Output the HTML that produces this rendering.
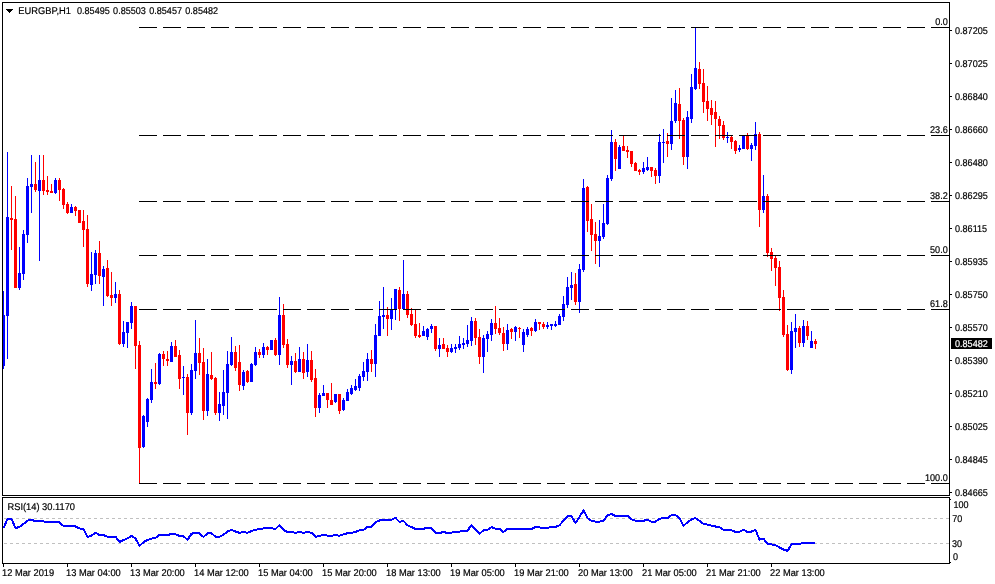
<!DOCTYPE html>
<html lang="en"><head><meta charset="utf-8"><title>EURGBP,H1</title>
<style>html,body{margin:0;padding:0;background:#fff;overflow:hidden}svg{display:block}text{font-family:"Liberation Sans", sans-serif;font-size:9.8px;fill:#000;stroke:#000;stroke-width:0.2px;text-rendering:geometricPrecision}.c rect{shape-rendering:crispEdges}.b{fill:#0000ff}.r{fill:#ff0000}.k{fill:#000}</style></head><body>
<svg width="995" height="584" viewBox="0 0 995 584">
<rect width="995" height="584" fill="#fff"/>
<g class="c">
<rect class="b" x="3" y="291" width="1" height="78"/>
<rect class="b" x="2" y="315" width="3" height="51"/>
<rect class="b" x="7" y="152" width="1" height="207"/>
<rect class="b" x="6" y="217" width="3" height="99"/>
<rect class="r" x="11" y="186" width="1" height="64"/>
<rect class="r" x="10" y="218" width="3" height="2"/>
<rect class="r" x="15" y="196" width="1" height="92"/>
<rect class="r" x="14" y="219" width="3" height="69"/>
<rect class="b" x="19" y="247" width="1" height="43"/>
<rect class="b" x="18" y="273" width="3" height="15"/>
<rect class="b" x="23" y="230" width="1" height="50"/>
<rect class="b" x="22" y="234" width="3" height="40"/>
<rect class="b" x="27" y="178" width="1" height="65"/>
<rect class="b" x="26" y="186" width="3" height="49"/>
<rect class="b" x="31" y="155" width="1" height="58"/>
<rect class="b" x="30" y="184" width="3" height="3"/>
<rect class="r" x="35" y="162" width="1" height="30"/>
<rect class="r" x="34" y="184" width="3" height="6"/>
<rect class="b" x="39" y="155" width="1" height="106"/>
<rect class="b" x="38" y="180" width="3" height="11"/>
<rect class="r" x="43" y="155" width="1" height="40"/>
<rect class="r" x="42" y="180" width="3" height="11"/>
<rect class="r" x="47" y="176" width="1" height="19"/>
<rect class="r" x="46" y="190" width="3" height="2"/>
<rect class="r" x="51" y="184" width="1" height="9"/>
<rect class="r" x="50" y="191" width="3" height="2"/>
<rect class="b" x="55" y="178" width="1" height="16"/>
<rect class="b" x="54" y="180" width="3" height="13"/>
<rect class="r" x="59" y="178" width="1" height="23"/>
<rect class="r" x="58" y="180" width="3" height="10"/>
<rect class="r" x="63" y="188" width="1" height="21"/>
<rect class="r" x="62" y="189" width="3" height="16"/>
<rect class="r" x="67" y="202" width="1" height="12"/>
<rect class="r" x="66" y="204" width="3" height="9"/>
<rect class="b" x="71" y="204" width="1" height="9"/>
<rect class="b" x="70" y="207" width="3" height="6"/>
<rect class="r" x="75" y="206" width="1" height="10"/>
<rect class="r" x="74" y="207" width="3" height="4"/>
<rect class="r" x="79" y="210" width="1" height="13"/>
<rect class="r" x="78" y="210" width="3" height="13"/>
<rect class="r" x="83" y="210" width="1" height="37"/>
<rect class="r" x="82" y="221" width="3" height="9"/>
<rect class="r" x="87" y="215" width="1" height="72"/>
<rect class="r" x="86" y="229" width="3" height="55"/>
<rect class="b" x="91" y="252" width="1" height="39"/>
<rect class="b" x="90" y="274" width="3" height="11"/>
<rect class="b" x="95" y="250" width="1" height="34"/>
<rect class="b" x="94" y="253" width="3" height="22"/>
<rect class="r" x="99" y="241" width="1" height="43"/>
<rect class="r" x="98" y="253" width="3" height="23"/>
<rect class="b" x="103" y="266" width="1" height="40"/>
<rect class="b" x="102" y="269" width="3" height="8"/>
<rect class="r" x="107" y="260" width="1" height="37"/>
<rect class="r" x="106" y="268" width="3" height="28"/>
<rect class="r" x="111" y="272" width="1" height="34"/>
<rect class="r" x="110" y="295" width="3" height="3"/>
<rect class="b" x="115" y="282" width="1" height="21"/>
<rect class="b" x="114" y="294" width="3" height="4"/>
<rect class="r" x="119" y="290" width="1" height="55"/>
<rect class="r" x="118" y="294" width="3" height="50"/>
<rect class="b" x="123" y="321" width="1" height="26"/>
<rect class="b" x="122" y="332" width="3" height="12"/>
<rect class="b" x="127" y="322" width="1" height="26"/>
<rect class="b" x="126" y="322" width="3" height="11"/>
<rect class="b" x="131" y="302" width="1" height="27"/>
<rect class="b" x="130" y="306" width="3" height="17"/>
<rect class="r" x="135" y="306" width="1" height="63"/>
<rect class="r" x="134" y="306" width="3" height="40"/>
<rect class="r" x="139" y="341" width="1" height="142"/>
<rect class="r" x="138" y="345" width="3" height="103"/>
<rect class="b" x="143" y="415" width="1" height="33"/>
<rect class="b" x="142" y="416" width="3" height="31"/>
<rect class="b" x="147" y="398" width="1" height="29"/>
<rect class="b" x="146" y="399" width="3" height="23"/>
<rect class="b" x="151" y="369" width="1" height="34"/>
<rect class="b" x="150" y="382" width="3" height="18"/>
<rect class="r" x="155" y="363" width="1" height="26"/>
<rect class="r" x="154" y="382" width="3" height="2"/>
<rect class="b" x="159" y="353" width="1" height="32"/>
<rect class="b" x="158" y="354" width="3" height="30"/>
<rect class="r" x="163" y="351" width="1" height="15"/>
<rect class="r" x="162" y="354" width="3" height="5"/>
<rect class="r" x="167" y="351" width="1" height="15"/>
<rect class="r" x="166" y="359" width="3" height="2"/>
<rect class="b" x="171" y="342" width="1" height="20"/>
<rect class="b" x="170" y="346" width="3" height="16"/>
<rect class="r" x="175" y="340" width="1" height="17"/>
<rect class="r" x="174" y="346" width="3" height="11"/>
<rect class="r" x="179" y="350" width="1" height="39"/>
<rect class="r" x="178" y="355" width="3" height="24"/>
<rect class="b" x="183" y="366" width="1" height="29"/>
<rect class="b" x="182" y="377" width="3" height="1"/>
<rect class="r" x="187" y="374" width="1" height="61"/>
<rect class="r" x="186" y="377" width="3" height="36"/>
<rect class="b" x="191" y="364" width="1" height="51"/>
<rect class="b" x="190" y="370" width="3" height="43"/>
<rect class="b" x="195" y="320" width="1" height="59"/>
<rect class="b" x="194" y="353" width="3" height="18"/>
<rect class="r" x="199" y="338" width="1" height="37"/>
<rect class="r" x="198" y="353" width="3" height="10"/>
<rect class="r" x="203" y="348" width="1" height="72"/>
<rect class="r" x="202" y="362" width="3" height="49"/>
<rect class="b" x="207" y="359" width="1" height="57"/>
<rect class="b" x="206" y="374" width="3" height="37"/>
<rect class="r" x="211" y="352" width="1" height="28"/>
<rect class="r" x="210" y="375" width="3" height="4"/>
<rect class="r" x="215" y="377" width="1" height="38"/>
<rect class="r" x="214" y="378" width="3" height="35"/>
<rect class="b" x="219" y="392" width="1" height="29"/>
<rect class="b" x="218" y="404" width="3" height="9"/>
<rect class="b" x="223" y="370" width="1" height="45"/>
<rect class="b" x="222" y="392" width="3" height="14"/>
<rect class="b" x="227" y="351" width="1" height="68"/>
<rect class="b" x="226" y="364" width="3" height="29"/>
<rect class="b" x="231" y="337" width="1" height="29"/>
<rect class="b" x="230" y="352" width="3" height="13"/>
<rect class="r" x="235" y="346" width="1" height="25"/>
<rect class="r" x="234" y="352" width="3" height="16"/>
<rect class="r" x="239" y="345" width="1" height="46"/>
<rect class="r" x="238" y="362" width="3" height="23"/>
<rect class="b" x="243" y="370" width="1" height="20"/>
<rect class="b" x="242" y="372" width="3" height="14"/>
<rect class="r" x="247" y="370" width="1" height="13"/>
<rect class="r" x="246" y="371" width="3" height="11"/>
<rect class="b" x="251" y="363" width="1" height="19"/>
<rect class="b" x="250" y="364" width="3" height="18"/>
<rect class="b" x="255" y="347" width="1" height="19"/>
<rect class="b" x="254" y="352" width="3" height="13"/>
<rect class="r" x="259" y="349" width="1" height="9"/>
<rect class="r" x="258" y="352" width="3" height="3"/>
<rect class="b" x="263" y="343" width="1" height="15"/>
<rect class="b" x="262" y="347" width="3" height="8"/>
<rect class="r" x="267" y="346" width="1" height="9"/>
<rect class="r" x="266" y="347" width="3" height="3"/>
<rect class="b" x="271" y="340" width="1" height="10"/>
<rect class="b" x="270" y="340" width="3" height="10"/>
<rect class="r" x="275" y="338" width="1" height="18"/>
<rect class="r" x="274" y="340" width="3" height="15"/>
<rect class="b" x="279" y="297" width="1" height="68"/>
<rect class="b" x="278" y="315" width="3" height="40"/>
<rect class="r" x="283" y="304" width="1" height="44"/>
<rect class="r" x="282" y="315" width="3" height="30"/>
<rect class="r" x="287" y="339" width="1" height="29"/>
<rect class="r" x="286" y="344" width="3" height="21"/>
<rect class="b" x="291" y="356" width="1" height="29"/>
<rect class="b" x="290" y="361" width="3" height="4"/>
<rect class="r" x="295" y="353" width="1" height="20"/>
<rect class="r" x="294" y="361" width="3" height="11"/>
<rect class="b" x="299" y="347" width="1" height="25"/>
<rect class="b" x="298" y="359" width="3" height="13"/>
<rect class="r" x="303" y="352" width="1" height="27"/>
<rect class="r" x="302" y="359" width="3" height="14"/>
<rect class="b" x="307" y="344" width="1" height="33"/>
<rect class="b" x="306" y="360" width="3" height="12"/>
<rect class="r" x="311" y="351" width="1" height="31"/>
<rect class="r" x="310" y="360" width="3" height="20"/>
<rect class="r" x="315" y="369" width="1" height="48"/>
<rect class="r" x="314" y="378" width="3" height="30"/>
<rect class="b" x="319" y="393" width="1" height="20"/>
<rect class="b" x="318" y="395" width="3" height="13"/>
<rect class="b" x="323" y="385" width="1" height="11"/>
<rect class="b" x="322" y="393" width="3" height="3"/>
<rect class="r" x="327" y="393" width="1" height="15"/>
<rect class="r" x="326" y="393" width="3" height="7"/>
<rect class="r" x="331" y="383" width="1" height="22"/>
<rect class="r" x="330" y="400" width="3" height="5"/>
<rect class="b" x="335" y="394" width="1" height="9"/>
<rect class="b" x="334" y="394" width="3" height="8"/>
<rect class="r" x="339" y="394" width="1" height="20"/>
<rect class="r" x="338" y="394" width="3" height="17"/>
<rect class="b" x="343" y="398" width="1" height="13"/>
<rect class="b" x="342" y="400" width="3" height="10"/>
<rect class="b" x="347" y="389" width="1" height="12"/>
<rect class="b" x="346" y="392" width="3" height="9"/>
<rect class="b" x="351" y="385" width="1" height="10"/>
<rect class="b" x="350" y="388" width="3" height="6"/>
<rect class="b" x="355" y="379" width="1" height="12"/>
<rect class="b" x="354" y="386" width="3" height="4"/>
<rect class="b" x="359" y="374" width="1" height="17"/>
<rect class="b" x="358" y="376" width="3" height="12"/>
<rect class="b" x="363" y="362" width="1" height="19"/>
<rect class="b" x="362" y="371" width="3" height="6"/>
<rect class="b" x="367" y="353" width="1" height="28"/>
<rect class="b" x="366" y="359" width="3" height="13"/>
<rect class="r" x="371" y="350" width="1" height="22"/>
<rect class="r" x="370" y="359" width="3" height="5"/>
<rect class="b" x="375" y="324" width="1" height="53"/>
<rect class="b" x="374" y="335" width="3" height="29"/>
<rect class="b" x="379" y="301" width="1" height="35"/>
<rect class="b" x="378" y="316" width="3" height="20"/>
<rect class="b" x="383" y="287" width="1" height="42"/>
<rect class="b" x="382" y="315" width="3" height="2"/>
<rect class="r" x="387" y="307" width="1" height="29"/>
<rect class="r" x="386" y="315" width="3" height="4"/>
<rect class="b" x="391" y="298" width="1" height="32"/>
<rect class="b" x="390" y="310" width="3" height="9"/>
<rect class="b" x="395" y="289" width="1" height="31"/>
<rect class="b" x="394" y="289" width="3" height="20"/>
<rect class="r" x="399" y="287" width="1" height="34"/>
<rect class="r" x="398" y="290" width="3" height="19"/>
<rect class="b" x="403" y="260" width="1" height="49"/>
<rect class="b" x="402" y="294" width="3" height="15"/>
<rect class="r" x="407" y="291" width="1" height="27"/>
<rect class="r" x="406" y="294" width="3" height="21"/>
<rect class="r" x="411" y="308" width="1" height="18"/>
<rect class="r" x="410" y="314" width="3" height="11"/>
<rect class="r" x="415" y="310" width="1" height="28"/>
<rect class="r" x="414" y="324" width="3" height="12"/>
<rect class="r" x="419" y="323" width="1" height="15"/>
<rect class="r" x="418" y="335" width="3" height="2"/>
<rect class="b" x="423" y="326" width="1" height="10"/>
<rect class="b" x="422" y="331" width="3" height="5"/>
<rect class="b" x="427" y="328" width="1" height="12"/>
<rect class="b" x="426" y="329" width="3" height="8"/>
<rect class="b" x="431" y="324" width="1" height="9"/>
<rect class="b" x="430" y="326" width="3" height="3"/>
<rect class="r" x="435" y="326" width="1" height="25"/>
<rect class="r" x="434" y="326" width="3" height="23"/>
<rect class="b" x="439" y="338" width="1" height="19"/>
<rect class="b" x="438" y="345" width="3" height="4"/>
<rect class="r" x="443" y="338" width="1" height="11"/>
<rect class="r" x="442" y="344" width="3" height="5"/>
<rect class="r" x="447" y="345" width="1" height="12"/>
<rect class="r" x="446" y="348" width="3" height="4"/>
<rect class="b" x="451" y="344" width="1" height="9"/>
<rect class="b" x="450" y="348" width="3" height="4"/>
<rect class="b" x="455" y="344" width="1" height="9"/>
<rect class="b" x="454" y="347" width="3" height="2"/>
<rect class="b" x="459" y="336" width="1" height="14"/>
<rect class="b" x="458" y="344" width="3" height="4"/>
<rect class="b" x="463" y="338" width="1" height="11"/>
<rect class="b" x="462" y="343" width="3" height="2"/>
<rect class="b" x="467" y="325" width="1" height="22"/>
<rect class="b" x="466" y="340" width="3" height="4"/>
<rect class="b" x="471" y="317" width="1" height="29"/>
<rect class="b" x="470" y="321" width="3" height="20"/>
<rect class="r" x="475" y="318" width="1" height="27"/>
<rect class="r" x="474" y="321" width="3" height="17"/>
<rect class="r" x="479" y="329" width="1" height="35"/>
<rect class="r" x="478" y="337" width="3" height="20"/>
<rect class="b" x="483" y="335" width="1" height="38"/>
<rect class="b" x="482" y="338" width="3" height="19"/>
<rect class="b" x="487" y="331" width="1" height="21"/>
<rect class="b" x="486" y="334" width="3" height="5"/>
<rect class="b" x="491" y="319" width="1" height="22"/>
<rect class="b" x="490" y="323" width="3" height="12"/>
<rect class="r" x="495" y="306" width="1" height="28"/>
<rect class="r" x="494" y="323" width="3" height="6"/>
<rect class="r" x="499" y="318" width="1" height="17"/>
<rect class="r" x="498" y="328" width="3" height="5"/>
<rect class="r" x="503" y="327" width="1" height="24"/>
<rect class="r" x="502" y="333" width="3" height="11"/>
<rect class="b" x="507" y="324" width="1" height="26"/>
<rect class="b" x="506" y="330" width="3" height="14"/>
<rect class="r" x="511" y="328" width="1" height="11"/>
<rect class="r" x="510" y="329" width="3" height="3"/>
<rect class="b" x="515" y="326" width="1" height="15"/>
<rect class="b" x="514" y="327" width="3" height="5"/>
<rect class="r" x="519" y="327" width="1" height="11"/>
<rect class="r" x="518" y="328" width="3" height="1"/>
<rect class="b" x="523" y="329" width="1" height="23"/>
<rect class="b" x="522" y="332" width="3" height="13"/>
<rect class="b" x="527" y="327" width="1" height="10"/>
<rect class="b" x="526" y="329" width="3" height="6"/>
<rect class="r" x="531" y="327" width="1" height="9"/>
<rect class="r" x="530" y="328" width="3" height="3"/>
<rect class="b" x="535" y="319" width="1" height="13"/>
<rect class="b" x="534" y="322" width="3" height="9"/>
<rect class="r" x="539" y="322" width="1" height="8"/>
<rect class="r" x="538" y="322" width="3" height="2"/>
<rect class="r" x="543" y="322" width="1" height="7"/>
<rect class="r" x="542" y="324" width="3" height="3"/>
<rect class="b" x="547" y="322" width="1" height="7"/>
<rect class="b" x="546" y="325" width="3" height="2"/>
<rect class="b" x="551" y="324" width="1" height="6"/>
<rect class="b" x="550" y="324" width="3" height="2"/>
<rect class="b" x="555" y="321" width="1" height="6"/>
<rect class="b" x="554" y="324" width="3" height="2"/>
<rect class="b" x="559" y="314" width="1" height="11"/>
<rect class="b" x="558" y="316" width="3" height="9"/>
<rect class="b" x="563" y="296" width="1" height="25"/>
<rect class="b" x="562" y="304" width="3" height="13"/>
<rect class="b" x="567" y="277" width="1" height="31"/>
<rect class="b" x="566" y="287" width="3" height="18"/>
<rect class="b" x="571" y="272" width="1" height="28"/>
<rect class="b" x="570" y="285" width="3" height="3"/>
<rect class="r" x="575" y="273" width="1" height="32"/>
<rect class="r" x="574" y="284" width="3" height="18"/>
<rect class="b" x="579" y="264" width="1" height="49"/>
<rect class="b" x="578" y="269" width="3" height="33"/>
<rect class="b" x="583" y="179" width="1" height="93"/>
<rect class="b" x="582" y="188" width="3" height="82"/>
<rect class="r" x="587" y="186" width="1" height="46"/>
<rect class="r" x="586" y="187" width="3" height="34"/>
<rect class="r" x="591" y="204" width="1" height="47"/>
<rect class="r" x="590" y="219" width="3" height="16"/>
<rect class="r" x="595" y="222" width="1" height="42"/>
<rect class="r" x="594" y="234" width="3" height="7"/>
<rect class="b" x="599" y="220" width="1" height="47"/>
<rect class="b" x="598" y="236" width="3" height="5"/>
<rect class="b" x="603" y="204" width="1" height="35"/>
<rect class="b" x="602" y="223" width="3" height="14"/>
<rect class="b" x="607" y="175" width="1" height="50"/>
<rect class="b" x="606" y="178" width="3" height="46"/>
<rect class="b" x="611" y="130" width="1" height="51"/>
<rect class="b" x="610" y="142" width="3" height="37"/>
<rect class="r" x="615" y="139" width="1" height="32"/>
<rect class="r" x="614" y="142" width="3" height="17"/>
<rect class="b" x="619" y="145" width="1" height="24"/>
<rect class="b" x="618" y="147" width="3" height="22"/>
<rect class="r" x="623" y="136" width="1" height="15"/>
<rect class="r" x="622" y="146" width="3" height="5"/>
<rect class="r" x="627" y="146" width="1" height="12"/>
<rect class="r" x="626" y="150" width="3" height="2"/>
<rect class="r" x="631" y="151" width="1" height="16"/>
<rect class="r" x="630" y="151" width="3" height="13"/>
<rect class="r" x="635" y="162" width="1" height="9"/>
<rect class="r" x="634" y="163" width="3" height="8"/>
<rect class="r" x="639" y="169" width="1" height="6"/>
<rect class="r" x="638" y="170" width="3" height="2"/>
<rect class="b" x="643" y="162" width="1" height="12"/>
<rect class="b" x="642" y="168" width="3" height="4"/>
<rect class="b" x="647" y="157" width="1" height="14"/>
<rect class="b" x="646" y="167" width="3" height="3"/>
<rect class="r" x="651" y="167" width="1" height="10"/>
<rect class="r" x="650" y="167" width="3" height="4"/>
<rect class="r" x="655" y="168" width="1" height="16"/>
<rect class="r" x="654" y="170" width="3" height="6"/>
<rect class="b" x="659" y="134" width="1" height="49"/>
<rect class="b" x="658" y="142" width="3" height="34"/>
<rect class="b" x="663" y="129" width="1" height="34"/>
<rect class="b" x="662" y="142" width="3" height="1"/>
<rect class="r" x="667" y="133" width="1" height="24"/>
<rect class="r" x="666" y="141" width="3" height="3"/>
<rect class="b" x="671" y="98" width="1" height="52"/>
<rect class="b" x="670" y="121" width="3" height="23"/>
<rect class="b" x="675" y="90" width="1" height="33"/>
<rect class="b" x="674" y="103" width="3" height="18"/>
<rect class="r" x="679" y="88" width="1" height="51"/>
<rect class="r" x="678" y="104" width="3" height="17"/>
<rect class="r" x="683" y="118" width="1" height="47"/>
<rect class="r" x="682" y="120" width="3" height="37"/>
<rect class="b" x="687" y="111" width="1" height="58"/>
<rect class="b" x="686" y="117" width="3" height="40"/>
<rect class="b" x="691" y="74" width="1" height="49"/>
<rect class="b" x="690" y="87" width="3" height="32"/>
<rect class="b" x="695" y="27" width="1" height="63"/>
<rect class="b" x="694" y="68" width="3" height="21"/>
<rect class="r" x="699" y="62" width="1" height="27"/>
<rect class="r" x="698" y="69" width="3" height="15"/>
<rect class="r" x="703" y="69" width="1" height="44"/>
<rect class="r" x="702" y="83" width="3" height="19"/>
<rect class="r" x="707" y="86" width="1" height="35"/>
<rect class="r" x="706" y="101" width="3" height="8"/>
<rect class="r" x="711" y="100" width="1" height="25"/>
<rect class="r" x="710" y="108" width="3" height="7"/>
<rect class="r" x="715" y="101" width="1" height="46"/>
<rect class="r" x="714" y="112" width="3" height="7"/>
<rect class="r" x="719" y="116" width="1" height="23"/>
<rect class="r" x="718" y="119" width="3" height="7"/>
<rect class="r" x="723" y="121" width="1" height="19"/>
<rect class="r" x="722" y="125" width="3" height="13"/>
<rect class="b" x="727" y="132" width="1" height="11"/>
<rect class="b" x="726" y="137" width="3" height="1"/>
<rect class="r" x="731" y="136" width="1" height="13"/>
<rect class="r" x="730" y="137" width="3" height="5"/>
<rect class="r" x="735" y="140" width="1" height="14"/>
<rect class="r" x="734" y="141" width="3" height="10"/>
<rect class="b" x="739" y="145" width="1" height="7"/>
<rect class="b" x="738" y="148" width="3" height="2"/>
<rect class="b" x="743" y="136" width="1" height="13"/>
<rect class="b" x="742" y="136" width="3" height="13"/>
<rect class="r" x="747" y="133" width="1" height="17"/>
<rect class="r" x="746" y="136" width="3" height="13"/>
<rect class="b" x="751" y="143" width="1" height="18"/>
<rect class="b" x="750" y="145" width="3" height="4"/>
<rect class="b" x="755" y="122" width="1" height="28"/>
<rect class="b" x="754" y="134" width="3" height="12"/>
<rect class="r" x="759" y="132" width="1" height="95"/>
<rect class="r" x="758" y="134" width="3" height="76"/>
<rect class="b" x="763" y="175" width="1" height="38"/>
<rect class="b" x="762" y="196" width="3" height="14"/>
<rect class="r" x="767" y="194" width="1" height="63"/>
<rect class="r" x="766" y="196" width="3" height="57"/>
<rect class="r" x="771" y="248" width="1" height="23"/>
<rect class="r" x="770" y="252" width="3" height="7"/>
<rect class="r" x="775" y="256" width="1" height="30"/>
<rect class="r" x="774" y="258" width="3" height="10"/>
<rect class="r" x="779" y="261" width="1" height="50"/>
<rect class="r" x="778" y="267" width="3" height="31"/>
<rect class="r" x="783" y="290" width="1" height="47"/>
<rect class="r" x="782" y="297" width="3" height="38"/>
<rect class="r" x="787" y="325" width="1" height="46"/>
<rect class="r" x="786" y="334" width="3" height="36"/>
<rect class="b" x="791" y="322" width="1" height="52"/>
<rect class="b" x="790" y="331" width="3" height="39"/>
<rect class="b" x="795" y="314" width="1" height="34"/>
<rect class="b" x="794" y="328" width="3" height="4"/>
<rect class="r" x="799" y="326" width="1" height="21"/>
<rect class="r" x="798" y="328" width="3" height="15"/>
<rect class="b" x="803" y="320" width="1" height="27"/>
<rect class="b" x="802" y="326" width="3" height="17"/>
<rect class="r" x="807" y="321" width="1" height="19"/>
<rect class="r" x="806" y="326" width="3" height="10"/>
<rect class="b" x="811" y="331" width="1" height="17"/>
<rect class="b" x="810" y="341" width="3" height="7"/>
<rect class="r" x="815" y="339" width="1" height="10"/>
<rect class="r" x="814" y="341" width="3" height="3"/>
</g>
<g class="c">
<path d="M139 27h18v1h-18zM163 27h18v1h-18zM187 27h18v1h-18zM211 27h18v1h-18zM235 27h18v1h-18zM259 27h18v1h-18zM283 27h18v1h-18zM307 27h18v1h-18zM331 27h18v1h-18zM355 27h18v1h-18zM379 27h18v1h-18zM403 27h18v1h-18zM427 27h18v1h-18zM451 27h18v1h-18zM475 27h18v1h-18zM499 27h18v1h-18zM523 27h18v1h-18zM547 27h18v1h-18zM571 27h18v1h-18zM595 27h18v1h-18zM619 27h18v1h-18zM643 27h18v1h-18zM667 27h18v1h-18zM691 27h18v1h-18zM715 27h18v1h-18zM739 27h18v1h-18zM763 27h18v1h-18zM787 27h18v1h-18zM811 27h18v1h-18zM835 27h18v1h-18zM859 27h18v1h-18zM883 27h18v1h-18zM907 27h18v1h-18zM931 27h18v1h-18z" fill="#000" shape-rendering="crispEdges"/>
<path d="M139 135h18v1h-18zM163 135h18v1h-18zM187 135h18v1h-18zM211 135h18v1h-18zM235 135h18v1h-18zM259 135h18v1h-18zM283 135h18v1h-18zM307 135h18v1h-18zM331 135h18v1h-18zM355 135h18v1h-18zM379 135h18v1h-18zM403 135h18v1h-18zM427 135h18v1h-18zM451 135h18v1h-18zM475 135h18v1h-18zM499 135h18v1h-18zM523 135h18v1h-18zM547 135h18v1h-18zM571 135h18v1h-18zM595 135h18v1h-18zM619 135h18v1h-18zM643 135h18v1h-18zM667 135h18v1h-18zM691 135h18v1h-18zM715 135h18v1h-18zM739 135h18v1h-18zM763 135h18v1h-18zM787 135h18v1h-18zM811 135h18v1h-18zM835 135h18v1h-18zM859 135h18v1h-18zM883 135h18v1h-18zM907 135h18v1h-18zM931 135h18v1h-18z" fill="#000" shape-rendering="crispEdges"/>
<path d="M139 201h18v1h-18zM163 201h18v1h-18zM187 201h18v1h-18zM211 201h18v1h-18zM235 201h18v1h-18zM259 201h18v1h-18zM283 201h18v1h-18zM307 201h18v1h-18zM331 201h18v1h-18zM355 201h18v1h-18zM379 201h18v1h-18zM403 201h18v1h-18zM427 201h18v1h-18zM451 201h18v1h-18zM475 201h18v1h-18zM499 201h18v1h-18zM523 201h18v1h-18zM547 201h18v1h-18zM571 201h18v1h-18zM595 201h18v1h-18zM619 201h18v1h-18zM643 201h18v1h-18zM667 201h18v1h-18zM691 201h18v1h-18zM715 201h18v1h-18zM739 201h18v1h-18zM763 201h18v1h-18zM787 201h18v1h-18zM811 201h18v1h-18zM835 201h18v1h-18zM859 201h18v1h-18zM883 201h18v1h-18zM907 201h18v1h-18zM931 201h18v1h-18z" fill="#000" shape-rendering="crispEdges"/>
<path d="M139 255h18v1h-18zM163 255h18v1h-18zM187 255h18v1h-18zM211 255h18v1h-18zM235 255h18v1h-18zM259 255h18v1h-18zM283 255h18v1h-18zM307 255h18v1h-18zM331 255h18v1h-18zM355 255h18v1h-18zM379 255h18v1h-18zM403 255h18v1h-18zM427 255h18v1h-18zM451 255h18v1h-18zM475 255h18v1h-18zM499 255h18v1h-18zM523 255h18v1h-18zM547 255h18v1h-18zM571 255h18v1h-18zM595 255h18v1h-18zM619 255h18v1h-18zM643 255h18v1h-18zM667 255h18v1h-18zM691 255h18v1h-18zM715 255h18v1h-18zM739 255h18v1h-18zM763 255h18v1h-18zM787 255h18v1h-18zM811 255h18v1h-18zM835 255h18v1h-18zM859 255h18v1h-18zM883 255h18v1h-18zM907 255h18v1h-18zM931 255h18v1h-18z" fill="#000" shape-rendering="crispEdges"/>
<path d="M139 309h18v1h-18zM163 309h18v1h-18zM187 309h18v1h-18zM211 309h18v1h-18zM235 309h18v1h-18zM259 309h18v1h-18zM283 309h18v1h-18zM307 309h18v1h-18zM331 309h18v1h-18zM355 309h18v1h-18zM379 309h18v1h-18zM403 309h18v1h-18zM427 309h18v1h-18zM451 309h18v1h-18zM475 309h18v1h-18zM499 309h18v1h-18zM523 309h18v1h-18zM547 309h18v1h-18zM571 309h18v1h-18zM595 309h18v1h-18zM619 309h18v1h-18zM643 309h18v1h-18zM667 309h18v1h-18zM691 309h18v1h-18zM715 309h18v1h-18zM739 309h18v1h-18zM763 309h18v1h-18zM787 309h18v1h-18zM811 309h18v1h-18zM835 309h18v1h-18zM859 309h18v1h-18zM883 309h18v1h-18zM907 309h18v1h-18zM931 309h18v1h-18z" fill="#000" shape-rendering="crispEdges"/>
<path d="M139 483h18v1h-18zM163 483h18v1h-18zM187 483h18v1h-18zM211 483h18v1h-18zM235 483h18v1h-18zM259 483h18v1h-18zM283 483h18v1h-18zM307 483h18v1h-18zM331 483h18v1h-18zM355 483h18v1h-18zM379 483h18v1h-18zM403 483h18v1h-18zM427 483h18v1h-18zM451 483h18v1h-18zM475 483h18v1h-18zM499 483h18v1h-18zM523 483h18v1h-18zM547 483h18v1h-18zM571 483h18v1h-18zM595 483h18v1h-18zM619 483h18v1h-18zM643 483h18v1h-18zM667 483h18v1h-18zM691 483h18v1h-18zM715 483h18v1h-18zM739 483h18v1h-18zM763 483h18v1h-18zM787 483h18v1h-18zM811 483h18v1h-18zM835 483h18v1h-18zM859 483h18v1h-18zM883 483h18v1h-18zM907 483h18v1h-18zM931 483h18v1h-18z" fill="#000" shape-rendering="crispEdges"/>
</g>
<path d="M4 518h3v1h-3zM10 518h3v1h-3zM16 518h3v1h-3zM22 518h3v1h-3zM28 518h3v1h-3zM34 518h3v1h-3zM40 518h3v1h-3zM46 518h3v1h-3zM52 518h3v1h-3zM58 518h3v1h-3zM64 518h3v1h-3zM70 518h3v1h-3zM76 518h3v1h-3zM82 518h3v1h-3zM88 518h3v1h-3zM94 518h3v1h-3zM100 518h3v1h-3zM106 518h3v1h-3zM112 518h3v1h-3zM118 518h3v1h-3zM124 518h3v1h-3zM130 518h3v1h-3zM136 518h3v1h-3zM142 518h3v1h-3zM148 518h3v1h-3zM154 518h3v1h-3zM160 518h3v1h-3zM166 518h3v1h-3zM172 518h3v1h-3zM178 518h3v1h-3zM184 518h3v1h-3zM190 518h3v1h-3zM196 518h3v1h-3zM202 518h3v1h-3zM208 518h3v1h-3zM214 518h3v1h-3zM220 518h3v1h-3zM226 518h3v1h-3zM232 518h3v1h-3zM238 518h3v1h-3zM244 518h3v1h-3zM250 518h3v1h-3zM256 518h3v1h-3zM262 518h3v1h-3zM268 518h3v1h-3zM274 518h3v1h-3zM280 518h3v1h-3zM286 518h3v1h-3zM292 518h3v1h-3zM298 518h3v1h-3zM304 518h3v1h-3zM310 518h3v1h-3zM316 518h3v1h-3zM322 518h3v1h-3zM328 518h3v1h-3zM334 518h3v1h-3zM340 518h3v1h-3zM346 518h3v1h-3zM352 518h3v1h-3zM358 518h3v1h-3zM364 518h3v1h-3zM370 518h3v1h-3zM376 518h3v1h-3zM382 518h3v1h-3zM388 518h3v1h-3zM394 518h3v1h-3zM400 518h3v1h-3zM406 518h3v1h-3zM412 518h3v1h-3zM418 518h3v1h-3zM424 518h3v1h-3zM430 518h3v1h-3zM436 518h3v1h-3zM442 518h3v1h-3zM448 518h3v1h-3zM454 518h3v1h-3zM460 518h3v1h-3zM466 518h3v1h-3zM472 518h3v1h-3zM478 518h3v1h-3zM484 518h3v1h-3zM490 518h3v1h-3zM496 518h3v1h-3zM502 518h3v1h-3zM508 518h3v1h-3zM514 518h3v1h-3zM520 518h3v1h-3zM526 518h3v1h-3zM532 518h3v1h-3zM538 518h3v1h-3zM544 518h3v1h-3zM550 518h3v1h-3zM556 518h3v1h-3zM562 518h3v1h-3zM568 518h3v1h-3zM574 518h3v1h-3zM580 518h3v1h-3zM586 518h3v1h-3zM592 518h3v1h-3zM598 518h3v1h-3zM604 518h3v1h-3zM610 518h3v1h-3zM616 518h3v1h-3zM622 518h3v1h-3zM628 518h3v1h-3zM634 518h3v1h-3zM640 518h3v1h-3zM646 518h3v1h-3zM652 518h3v1h-3zM658 518h3v1h-3zM664 518h3v1h-3zM670 518h3v1h-3zM676 518h3v1h-3zM682 518h3v1h-3zM688 518h3v1h-3zM694 518h3v1h-3zM700 518h3v1h-3zM706 518h3v1h-3zM712 518h3v1h-3zM718 518h3v1h-3zM724 518h3v1h-3zM730 518h3v1h-3zM736 518h3v1h-3zM742 518h3v1h-3zM748 518h3v1h-3zM754 518h3v1h-3zM760 518h3v1h-3zM766 518h3v1h-3zM772 518h3v1h-3zM778 518h3v1h-3zM784 518h3v1h-3zM790 518h3v1h-3zM796 518h3v1h-3zM802 518h3v1h-3zM808 518h3v1h-3zM814 518h3v1h-3zM820 518h3v1h-3zM826 518h3v1h-3zM832 518h3v1h-3zM838 518h3v1h-3zM844 518h3v1h-3zM850 518h3v1h-3zM856 518h3v1h-3zM862 518h3v1h-3zM868 518h3v1h-3zM874 518h3v1h-3zM880 518h3v1h-3zM886 518h3v1h-3zM892 518h3v1h-3zM898 518h3v1h-3zM904 518h3v1h-3zM910 518h3v1h-3zM916 518h3v1h-3zM922 518h3v1h-3zM928 518h3v1h-3zM934 518h3v1h-3zM940 518h3v1h-3zM946 518h3v1h-3z" fill="#c0c0c0" shape-rendering="crispEdges"/>
<path d="M4 543h3v1h-3zM10 543h3v1h-3zM16 543h3v1h-3zM22 543h3v1h-3zM28 543h3v1h-3zM34 543h3v1h-3zM40 543h3v1h-3zM46 543h3v1h-3zM52 543h3v1h-3zM58 543h3v1h-3zM64 543h3v1h-3zM70 543h3v1h-3zM76 543h3v1h-3zM82 543h3v1h-3zM88 543h3v1h-3zM94 543h3v1h-3zM100 543h3v1h-3zM106 543h3v1h-3zM112 543h3v1h-3zM118 543h3v1h-3zM124 543h3v1h-3zM130 543h3v1h-3zM136 543h3v1h-3zM142 543h3v1h-3zM148 543h3v1h-3zM154 543h3v1h-3zM160 543h3v1h-3zM166 543h3v1h-3zM172 543h3v1h-3zM178 543h3v1h-3zM184 543h3v1h-3zM190 543h3v1h-3zM196 543h3v1h-3zM202 543h3v1h-3zM208 543h3v1h-3zM214 543h3v1h-3zM220 543h3v1h-3zM226 543h3v1h-3zM232 543h3v1h-3zM238 543h3v1h-3zM244 543h3v1h-3zM250 543h3v1h-3zM256 543h3v1h-3zM262 543h3v1h-3zM268 543h3v1h-3zM274 543h3v1h-3zM280 543h3v1h-3zM286 543h3v1h-3zM292 543h3v1h-3zM298 543h3v1h-3zM304 543h3v1h-3zM310 543h3v1h-3zM316 543h3v1h-3zM322 543h3v1h-3zM328 543h3v1h-3zM334 543h3v1h-3zM340 543h3v1h-3zM346 543h3v1h-3zM352 543h3v1h-3zM358 543h3v1h-3zM364 543h3v1h-3zM370 543h3v1h-3zM376 543h3v1h-3zM382 543h3v1h-3zM388 543h3v1h-3zM394 543h3v1h-3zM400 543h3v1h-3zM406 543h3v1h-3zM412 543h3v1h-3zM418 543h3v1h-3zM424 543h3v1h-3zM430 543h3v1h-3zM436 543h3v1h-3zM442 543h3v1h-3zM448 543h3v1h-3zM454 543h3v1h-3zM460 543h3v1h-3zM466 543h3v1h-3zM472 543h3v1h-3zM478 543h3v1h-3zM484 543h3v1h-3zM490 543h3v1h-3zM496 543h3v1h-3zM502 543h3v1h-3zM508 543h3v1h-3zM514 543h3v1h-3zM520 543h3v1h-3zM526 543h3v1h-3zM532 543h3v1h-3zM538 543h3v1h-3zM544 543h3v1h-3zM550 543h3v1h-3zM556 543h3v1h-3zM562 543h3v1h-3zM568 543h3v1h-3zM574 543h3v1h-3zM580 543h3v1h-3zM586 543h3v1h-3zM592 543h3v1h-3zM598 543h3v1h-3zM604 543h3v1h-3zM610 543h3v1h-3zM616 543h3v1h-3zM622 543h3v1h-3zM628 543h3v1h-3zM634 543h3v1h-3zM640 543h3v1h-3zM646 543h3v1h-3zM652 543h3v1h-3zM658 543h3v1h-3zM664 543h3v1h-3zM670 543h3v1h-3zM676 543h3v1h-3zM682 543h3v1h-3zM688 543h3v1h-3zM694 543h3v1h-3zM700 543h3v1h-3zM706 543h3v1h-3zM712 543h3v1h-3zM718 543h3v1h-3zM724 543h3v1h-3zM730 543h3v1h-3zM736 543h3v1h-3zM742 543h3v1h-3zM748 543h3v1h-3zM754 543h3v1h-3zM760 543h3v1h-3zM766 543h3v1h-3zM772 543h3v1h-3zM778 543h3v1h-3zM784 543h3v1h-3zM790 543h3v1h-3zM796 543h3v1h-3zM802 543h3v1h-3zM808 543h3v1h-3zM814 543h3v1h-3zM820 543h3v1h-3zM826 543h3v1h-3zM832 543h3v1h-3zM838 543h3v1h-3zM844 543h3v1h-3zM850 543h3v1h-3zM856 543h3v1h-3zM862 543h3v1h-3zM868 543h3v1h-3zM874 543h3v1h-3zM880 543h3v1h-3zM886 543h3v1h-3zM892 543h3v1h-3zM898 543h3v1h-3zM904 543h3v1h-3zM910 543h3v1h-3zM916 543h3v1h-3zM922 543h3v1h-3zM928 543h3v1h-3zM934 543h3v1h-3zM940 543h3v1h-3zM946 543h3v1h-3z" fill="#c0c0c0" shape-rendering="crispEdges"/>
<polyline points="3.5,528.3 7.5,519.0 11.5,519.0 15.5,528.0 19.5,527.0 23.5,524.0 27.5,520.6 31.5,520.0 35.5,521.0 39.5,521.0 43.5,521.5 47.5,522.0 51.5,522.0 55.5,522.0 59.5,522.5 63.5,526.0 67.5,526.0 71.5,526.0 75.5,526.5 79.5,528.5 83.5,529.0 87.5,537.0 91.5,535.5 95.5,532.8 99.5,535.0 103.5,535.0 107.5,536.8 111.5,536.8 115.5,536.8 119.5,542.0 123.5,540.0 127.5,538.4 131.5,535.8 135.5,538.6 139.5,545.8 143.5,542.2 147.5,540.0 151.5,538.6 155.5,538.0 159.5,535.0 163.5,535.0 167.5,535.0 171.5,534.0 175.5,534.4 179.5,535.8 183.5,536.2 187.5,539.8 191.5,533.8 195.5,532.6 199.5,533.2 203.5,537.0 207.5,533.2 211.5,533.2 215.5,536.8 219.5,536.8 223.5,534.7 227.5,531.6 231.5,529.8 235.5,531.5 239.5,532.8 243.5,532.0 247.5,532.8 251.5,531.1 255.5,529.8 259.5,529.0 263.5,528.4 267.5,528.1 271.5,528.1 275.5,529.0 279.5,525.0 283.5,530.0 287.5,532.0 291.5,532.0 295.5,532.8 299.5,532.0 303.5,532.8 307.5,532.0 311.5,532.8 315.5,536.8 319.5,535.8 323.5,535.0 327.5,535.6 331.5,535.8 335.5,535.0 339.5,535.8 343.5,534.4 347.5,533.2 351.5,532.8 355.5,532.0 359.5,530.2 363.5,529.8 367.5,526.8 371.5,526.8 375.5,522.3 379.5,520.5 383.5,519.7 387.5,519.9 391.5,519.7 395.5,517.9 399.5,522.0 403.5,520.9 407.5,525.3 411.5,527.1 415.5,529.0 419.5,529.0 423.5,528.7 427.5,528.0 431.5,528.0 435.5,532.8 439.5,532.8 443.5,532.2 447.5,532.8 451.5,532.6 455.5,532.0 459.5,531.7 463.5,530.8 467.5,530.6 471.5,525.1 475.5,529.6 479.5,533.8 483.5,530.2 487.5,529.8 491.5,527.1 495.5,528.6 499.5,529.0 503.5,532.0 507.5,529.0 511.5,529.0 515.5,528.7 519.5,528.6 523.5,529.0 527.5,529.0 531.5,529.0 535.5,527.1 539.5,527.5 543.5,528.0 547.5,528.0 551.5,526.9 555.5,526.9 559.5,525.3 563.5,520.5 567.5,516.3 571.5,516.3 575.5,522.9 579.5,516.9 583.5,510.3 587.5,518.1 591.5,520.7 595.5,521.7 599.5,521.7 603.5,520.5 607.5,515.4 611.5,514.1 615.5,515.9 619.5,515.9 623.5,515.9 627.5,515.9 631.5,519.3 635.5,520.7 639.5,520.7 643.5,520.7 647.5,519.9 651.5,521.7 655.5,521.7 659.5,518.7 663.5,518.1 667.5,518.1 671.5,515.1 675.5,515.1 679.5,518.1 683.5,525.7 687.5,522.3 691.5,519.3 695.5,518.1 699.5,520.7 703.5,523.8 707.5,524.7 711.5,525.6 715.5,526.5 719.5,527.1 723.5,529.8 727.5,529.8 731.5,530.2 735.5,532.0 739.5,531.7 743.5,529.8 747.5,532.0 751.5,531.6 755.5,529.8 759.5,539.6 763.5,538.8 767.5,543.7 771.5,544.4 775.5,545.2 779.5,547.4 783.5,549.5 787.5,550.9 791.5,544.4 795.5,543.8 799.5,543.8 803.5,542.8 807.5,542.8 811.5,542.8 815.5,542.5" fill="none" stroke="#0000ff" stroke-width="2" stroke-linejoin="round" shape-rendering="crispEdges"/>
<g class="c k">
<rect x="2" y="2" width="948" height="1"/>
<rect x="2" y="495" width="948" height="1"/>
<rect x="2" y="497" width="948" height="1"/>
<rect x="2" y="563" width="948" height="1"/>
<rect x="2" y="2" width="1" height="494"/>
<rect x="2" y="497" width="1" height="67"/>
<rect x="949" y="2" width="1" height="494"/>
<rect x="949" y="497" width="1" height="67"/>
<rect x="950" y="30" width="2" height="1"/>
<rect x="950" y="63" width="2" height="1"/>
<rect x="950" y="96" width="2" height="1"/>
<rect x="950" y="129" width="2" height="1"/>
<rect x="950" y="162" width="2" height="1"/>
<rect x="950" y="195" width="2" height="1"/>
<rect x="950" y="228" width="2" height="1"/>
<rect x="950" y="261" width="2" height="1"/>
<rect x="950" y="294" width="2" height="1"/>
<rect x="950" y="327" width="2" height="1"/>
<rect x="950" y="360" width="2" height="1"/>
<rect x="950" y="393" width="2" height="1"/>
<rect x="950" y="426" width="2" height="1"/>
<rect x="950" y="459" width="2" height="1"/>
<rect x="950" y="492" width="2" height="1"/>
<rect x="950" y="499" width="1" height="1"/>
<rect x="950" y="562" width="1" height="1"/>
<rect x="3" y="564" width="1" height="3"/>
<rect x="67" y="564" width="1" height="3"/>
<rect x="131" y="564" width="1" height="3"/>
<rect x="195" y="564" width="1" height="3"/>
<rect x="259" y="564" width="1" height="3"/>
<rect x="323" y="564" width="1" height="3"/>
<rect x="387" y="564" width="1" height="3"/>
<rect x="451" y="564" width="1" height="3"/>
<rect x="515" y="564" width="1" height="3"/>
<rect x="579" y="564" width="1" height="3"/>
<rect x="643" y="564" width="1" height="3"/>
<rect x="707" y="564" width="1" height="3"/>
<rect x="771" y="564" width="1" height="3"/>
<rect x="951" y="338" width="41" height="11"/>
</g>
<path d="M6 9h7v1h-1v1h-1v1h-1v1h-1v-1h-1v-1h-1v-1h-1z" fill="#000" shape-rendering="crispEdges"/>
<text transform="translate(18.3 13.65) scale(0.952 1)">EURGBP,H1</text>
<text transform="translate(77.0 13.65) scale(0.925 1)">0.85495</text>
<text transform="translate(113.1 13.65) scale(0.925 1)">0.85503</text>
<text transform="translate(149.2 13.65) scale(0.925 1)">0.85457</text>
<text transform="translate(185.3 13.65) scale(0.925 1)">0.85482</text>
<text transform="translate(955 33.85) scale(0.925 1)">0.87205</text>
<text transform="translate(955 66.85) scale(0.925 1)">0.87025</text>
<text transform="translate(955 99.85) scale(0.925 1)">0.86840</text>
<text transform="translate(955 132.85) scale(0.925 1)">0.86660</text>
<text transform="translate(955 165.85) scale(0.925 1)">0.86480</text>
<text transform="translate(955 198.85) scale(0.925 1)">0.86295</text>
<text transform="translate(955 231.85) scale(0.925 1)">0.86115</text>
<text transform="translate(955 264.85) scale(0.925 1)">0.85935</text>
<text transform="translate(955 297.85) scale(0.925 1)">0.85750</text>
<text transform="translate(955 330.85) scale(0.925 1)">0.85570</text>
<text transform="translate(955 363.85) scale(0.925 1)">0.85390</text>
<text transform="translate(955 396.85) scale(0.925 1)">0.85210</text>
<text transform="translate(955 429.85) scale(0.925 1)">0.85025</text>
<text transform="translate(955 462.85) scale(0.925 1)">0.84845</text>
<text transform="translate(955 495.85) scale(0.925 1)">0.84665</text>
<text transform="translate(955 346.85) scale(0.925 1)" style="fill:#fff;stroke:#fff">0.85482</text>
<text transform="translate(947.8 24.9) scale(0.93 1)" text-anchor="end">0.0</text>
<text transform="translate(947.8 132.9) scale(0.93 1)" text-anchor="end">23.6</text>
<text transform="translate(947.8 198.9) scale(0.93 1)" text-anchor="end">38.2</text>
<text transform="translate(947.8 252.9) scale(0.93 1)" text-anchor="end">50.0</text>
<text transform="translate(947.8 306.9) scale(0.93 1)" text-anchor="end">61.8</text>
<text transform="translate(947.8 480.9) scale(0.93 1)" text-anchor="end">100.0</text>
<text transform="translate(7.5 510.3) scale(0.949 1)">RSI(14) 30.1170</text>
<text transform="translate(953.5 507.6) scale(0.92 1)">100</text>
<text transform="translate(952.2 521.7) scale(0.92 1)">70</text>
<text transform="translate(952.0 546.7) scale(0.92 1)">30</text>
<text transform="translate(953 559.7) scale(0.92 1)">0</text>
<text transform="translate(2 576) scale(0.949 1)">12 Mar 2019</text>
<text transform="translate(66 576) scale(0.949 1)">13 Mar 04:00</text>
<text transform="translate(130 576) scale(0.949 1)">13 Mar 20:00</text>
<text transform="translate(194 576) scale(0.949 1)">14 Mar 12:00</text>
<text transform="translate(258 576) scale(0.949 1)">15 Mar 04:00</text>
<text transform="translate(322 576) scale(0.949 1)">15 Mar 20:00</text>
<text transform="translate(386 576) scale(0.949 1)">18 Mar 13:00</text>
<text transform="translate(450 576) scale(0.949 1)">19 Mar 05:00</text>
<text transform="translate(514 576) scale(0.949 1)">19 Mar 21:00</text>
<text transform="translate(578 576) scale(0.949 1)">20 Mar 13:00</text>
<text transform="translate(642 576) scale(0.949 1)">21 Mar 05:00</text>
<text transform="translate(706 576) scale(0.949 1)">21 Mar 21:00</text>
<text transform="translate(770 576) scale(0.949 1)">22 Mar 13:00</text>
</svg></body></html>
